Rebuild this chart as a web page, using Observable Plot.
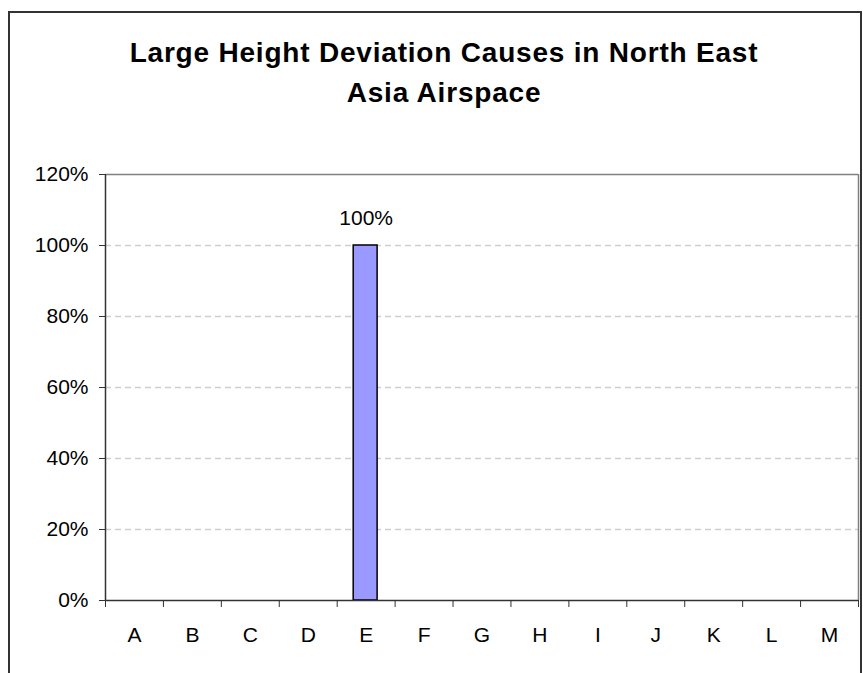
<!DOCTYPE html>
<html>
<head>
<meta charset="utf-8">
<script src="https://cdn.jsdelivr.net/npm/d3@7"></script>
<script src="https://cdn.jsdelivr.net/npm/@observablehq/plot@0.6"></script>
<style>
  html, body { margin: 0; padding: 0; background: #fff; }
  #wrap { position: relative; width: 863px; height: 673px; overflow: hidden; font-family: Arial, "Liberation Sans", sans-serif; }
  #border { position: absolute; left: 8px; top: 11px; width: 854px; height: 720px; border: 2px solid #333; box-sizing: border-box; }
  #title { position: absolute; left: 0; top: 33px; width: 888px; text-align: center; font-weight: bold; font-size: 28px; line-height: 40px; letter-spacing: 0.8px; color: #000; }
  #chart { position: absolute; left: 0; top: 0; }
</style>
</head>
<body>
<div id="wrap">
  <div id="border"></div>
  <div id="chart"></div>
  <div id="title">Large Height Deviation Causes in North East<br>Asia Airspace</div>
</div>
<script>
const categories = ["A", "B", "C", "D", "E", "F", "G", "H", "I", "J", "K", "L", "M"];
const values = [0, 0, 0, 0, 1.0, 0, 0, 0, 0, 0, 0, 0, 0];
const yTicks = [0, 0.2, 0.4, 0.6, 0.8, 1.0, 1.2];
const gridValues = [0.2, 0.4, 0.6, 0.8, 1.0];

const data = categories.map((c, i) => ({cat: c, value: values[i]}));
const shown = data.filter(d => d.value > 0);

const W = 863, H = 673, ML = 105, MR = 5;
const step = (W - ML - MR) / categories.length;
const pct = d3.format(".0%");

const chart = Plot.plot({
  width: W,
  height: H,
  marginTop: 174,
  marginBottom: 73,
  marginLeft: ML,
  marginRight: MR,
  style: {fontFamily: "Arial, 'Liberation Sans', sans-serif", fontSize: "21px", color: "#000", background: "transparent", overflow: "visible"},
  x: {domain: categories, padding: 0, round: false, label: null},
  y: {domain: [0, 1.2], label: null},
  marks: [
    Plot.ruleY(gridValues, {stroke: "#cfcfcf", strokeWidth: 1.3, strokeDasharray: "6,4"}),
    Plot.ruleY([1.2], {stroke: "#808080", strokeWidth: 1.5}),
    Plot.ruleX(["M"], {dx: step / 2, stroke: "#808080", strokeWidth: 1.5}),
    Plot.barY(shown, {x: "cat", y: "value", fill: "#9999ff", stroke: "#000", strokeWidth: 1.5, insetLeft: 16.5, insetRight: 17.5}),
    Plot.text(shown, {x: "cat", y: "value", text: d => pct(d.value), dy: -27, fontSize: 21, fill: "#000"}),
    Plot.ruleX(["A"], {dx: -step / 2, stroke: "#333", strokeWidth: 1.5}),
    Plot.ruleY([0], {stroke: "#333", strokeWidth: 1.5}),
    Plot.axisY({ticks: yTicks, tickFormat: pct, tickSize: 6, tickPadding: 11, stroke: "#333", fontSize: 21, fill: "#000"}),
    Plot.axisX({ticks: categories, tickFormat: () => "", tickSize: 7, dx: -step / 2, stroke: "#333"}),
    Plot.axisX({ticks: ["M"], tickFormat: () => "", tickSize: 7, dx: step / 2, stroke: "#333"}),
    Plot.axisX({ticks: categories, tickSize: 0, tickPadding: 27, fontSize: 21, fill: "#000"})
  ]
});
document.getElementById("chart").appendChild(chart);
</script>
</body>
</html>
